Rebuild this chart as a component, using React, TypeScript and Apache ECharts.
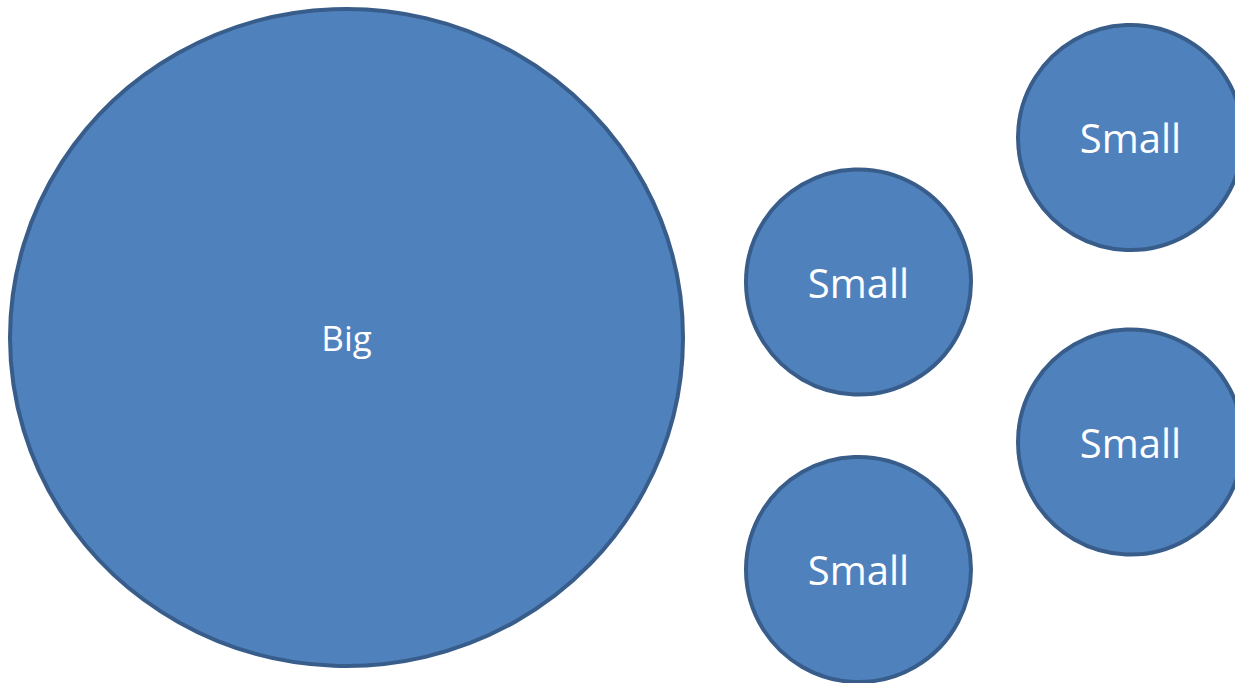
import React, { useEffect, useRef } from "react";
import * as echarts from "echarts";

const names = ["Big", "Small", "Small", "Small", "Small"];
const xValues = [346.5, 858.5, 858.5, 1130.5, 1130.5];
const yValues = [337.5, 282, 569.5, 137.5, 442];
const widths = [673, 225, 225, 225, 225];
const heights = [657, 225, 225, 225, 225];
const labelSizes = [35, 40, 40, 40, 40];

export default function App() {
  const ref = useRef<HTMLDivElement>(null);
  useEffect(() => {
    if (!ref.current) return;
    const chart = echarts.init(ref.current, null, { renderer: "svg" });
    const data = names.map((n, i) => ({
      name: n,
      value: [xValues[i], yValues[i]],
      symbolSize: [widths[i], heights[i]],
      label: { fontSize: labelSizes[i] },
    }));
    chart.setOption({
      animation: false,
      grid: { left: 0, right: 0, top: 0, bottom: 0 },
      xAxis: { type: "value", min: 0, max: 1235, show: false },
      yAxis: { type: "value", min: 0, max: 683, inverse: true, show: false },
      series: [
        {
          type: "scatter",
          symbol: "circle",
          clip: false,
          data,
          itemStyle: { color: "#4F81BD", borderColor: "#385D8A", borderWidth: 4, opacity: 1 },
          label: {
            show: true,
            position: "inside",
            formatter: "{b}",
            color: "#ffffff",
            fontFamily: "Open Sans",
          },
          emphasis: { disabled: true },
        },
      ],
    });
    return () => chart.dispose();
  }, []);
  return (
    <div
      ref={ref}
      style={{ position: "absolute", left: 0, top: 0, width: 1235, height: 683, background: "#ffffff" }}
    />
  );
}
